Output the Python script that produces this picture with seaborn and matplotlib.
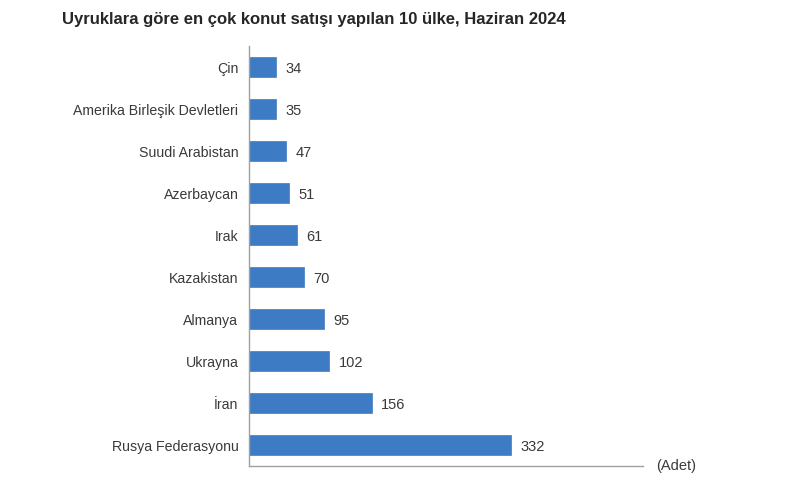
import numpy as np
import matplotlib.pyplot as plt
import seaborn as sns
import pandas as pd

countries = ["Çin", "Amerika Birleşik Devletleri", "Suudi Arabistan", "Azerbaycan",
             "Irak", "Kazakistan", "Almanya", "Ukrayna", "İran", "Rusya Federasyonu"]
sales = [34, 35, 47, 51, 61, 70, 95, 102, 156, 332]

title = "Uyruklara göre en çok konut satışı yapılan 10 ülke, Haziran 2024"
unit_label = "(Adet)"

sns.set_style("white")
plt.rcParams['font.family'] = ['Liberation Sans', 'DejaVu Sans']

df = pd.DataFrame({"country": countries, "sales": sales})

fig = plt.figure(figsize=(8, 4.97), dpi=100)
ax = fig.add_axes([0.311, 0.062, 0.493, 0.845])

sns.barplot(data=df, x="sales", y="country", color="#3d7cc4", saturation=1,
            width=0.47, edgecolor="#3d7cc4", linewidth=0.5, ax=ax)

for i, v in enumerate(sales):
    ax.text(v + 12, i, str(v), va="center_baseline", ha="left", fontsize=10.5,
            color="#3a3a3a")

ax.set_xlim(0, 500)
ax.set_ylim(9.5, -0.5)
ax.set_xlabel("")
ax.set_ylabel("")
ax.set_xticks([0, 500])
ax.set_xticklabels([])
ax.tick_params(axis="x", length=4, color="#a0a0a0", width=1)
ax.tick_params(axis="y", length=0, labelsize=10.2, labelcolor="#3a3a3a", pad=7.5)

for side in ["top", "right"]:
    ax.spines[side].set_visible(False)
for side in ["left", "bottom"]:
    ax.spines[side].set_color("#a0a0a0")
    ax.spines[side].set_linewidth(1)

fig.text(0.077, 0.96, title, fontsize=12, fontweight="bold", ha="left", va="center")
fig.text(0.82, 0.062, unit_label, fontsize=10.5, color="#3a3a3a", ha="left", va="center")

fig.savefig("out.png", dpi=100)
